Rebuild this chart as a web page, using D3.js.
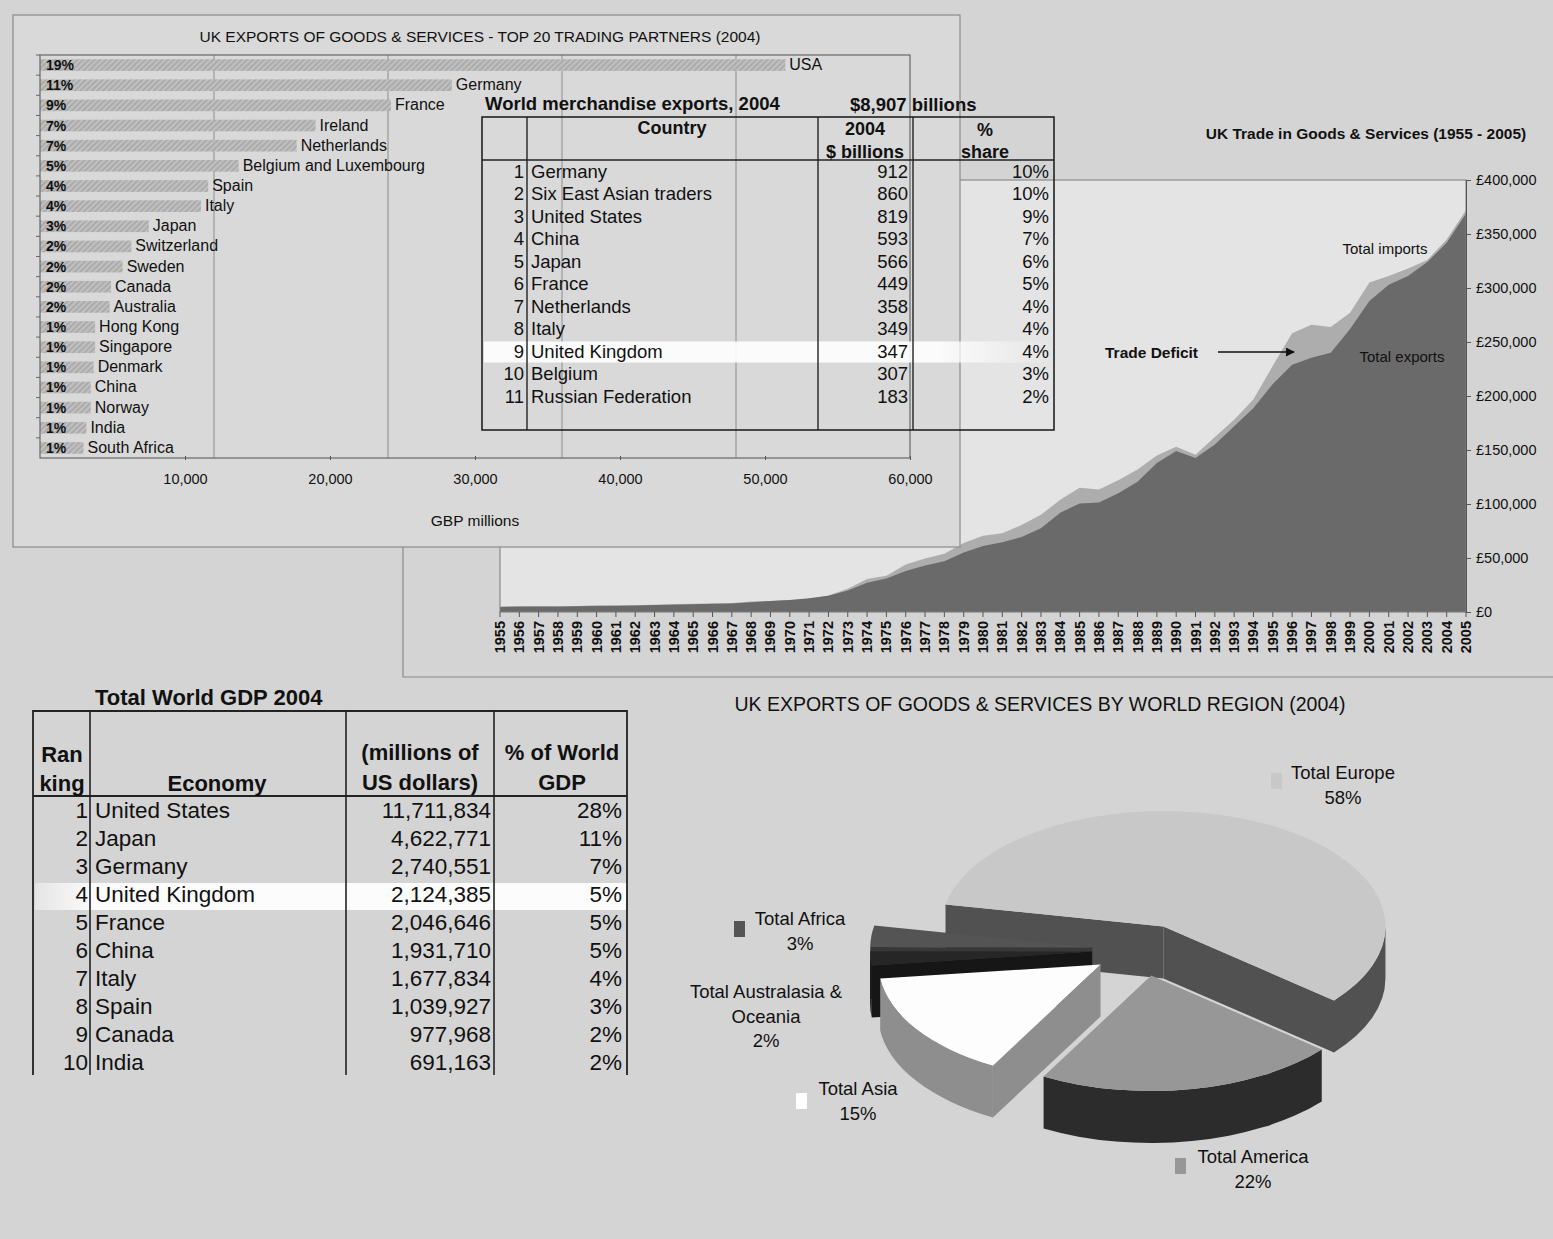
<!DOCTYPE html>
<html>
<head>
<meta charset="utf-8">
<script src="https://cdn.jsdelivr.net/npm/d3@7"></script>
<style>
html, body { margin: 0; padding: 0; background: #d4d4d4; }
svg { display: block; font-family: Arial, "Liberation Sans", sans-serif; }
</style>
</head>
<body>
<svg id="board" width="1553" height="1239"></svg>
<script>
// ---------- Top 20 trading partners (GBP millions, 2004) ----------
const partners = ["USA", "Germany", "France", "Ireland", "Netherlands", "Belgium and Luxembourg",
  "Spain", "Italy", "Japan", "Switzerland", "Sweden", "Canada", "Australia", "Hong Kong",
  "Singapore", "Denmark", "China", "Norway", "India", "South Africa"];
const partnerExports = [51400, 28400, 24200, 19000, 17700, 13700, 11600, 11100, 7500, 6300,
  5700, 4900, 4800, 3800, 3800, 3700, 3500, 3500, 3200, 3000];
const partnerShare = ["19%", "11%", "9%", "7%", "7%", "5%", "4%", "4%", "3%", "2%",
  "2%", "2%", "2%", "1%", "1%", "1%", "1%", "1%", "1%", "1%"];
const partnerTicks = [10000, 20000, 30000, 40000, 50000, 60000];
const partnerGrid = [12000, 24000, 36000, 48000];

// ---------- World merchandise exports 2004 ----------
const merchRank = [1, 2, 3, 4, 5, 6, 7, 8, 9, 10, 11];
const merchCountry = ["Germany", "Six East Asian traders", "United States", "China", "Japan",
  "France", "Netherlands", "Italy", "United Kingdom", "Belgium", "Russian Federation"];
const merchValue = [912, 860, 819, 593, 566, 449, 358, 349, 347, 307, 183];
const merchShare = ["10%", "10%", "9%", "7%", "6%", "5%", "4%", "4%", "4%", "3%", "2%"];

// ---------- UK trade in goods & services (GBP millions) ----------
const tradeYears = [1955, 1956, 1957, 1958, 1959, 1960, 1961, 1962, 1963, 1964, 1965, 1966, 1967,
  1968, 1969, 1970, 1971, 1972, 1973, 1974, 1975, 1976, 1977, 1978, 1979, 1980, 1981, 1982, 1983,
  1984, 1985, 1986, 1987, 1988, 1989, 1990, 1991, 1992, 1993, 1994, 1995, 1996, 1997, 1998, 1999,
  2000, 2001, 2002, 2003, 2004, 2005];
const tradeExports = [4700, 5000, 5200, 5100, 5300, 5600, 5800, 6000, 6400, 6700, 7200, 7600, 7800,
  9100, 10200, 11200, 12700, 15000, 20000, 27000, 31000, 38000, 43000, 47000, 55000, 61000, 64500,
  69500, 77500, 92000, 100500, 101500, 110000, 120500, 138000, 149000, 142500, 155000, 172000,
  189000, 211000, 229000, 235500, 240000, 262000, 288000, 303000, 311000, 324000, 342000, 369000];
const tradeImports = [5000, 5000, 5300, 5100, 5500, 6200, 6100, 6200, 6600, 7500, 7600, 7900, 8400,
  9800, 10300, 11000, 12000, 15200, 21500, 30500, 33500, 44000, 49500, 54000, 64000, 70500, 73000,
  80500, 90000, 104000, 115000, 113500, 122000, 132000, 145000, 153000, 145500, 162000, 178000,
  197000, 228000, 258000, 266000, 264000, 277000, 305000, 311000, 318000, 326000, 345000, 372000];
const tradeTicks = [0, 50000, 100000, 150000, 200000, 250000, 300000, 350000, 400000];

// ---------- Total world GDP 2004 ----------
const gdpRank = [1, 2, 3, 4, 5, 6, 7, 8, 9, 10];
const gdpEconomy = ["United States", "Japan", "Germany", "United Kingdom", "France", "China",
  "Italy", "Spain", "Canada", "India"];
const gdpValue = [11711834, 4622771, 2740551, 2124385, 2046646, 1931710, 1677834, 1039927, 977968, 691163];
const gdpShare = ["28%", "11%", "7%", "5%", "5%", "5%", "4%", "3%", "2%", "2%"];

// ---------- UK exports by world region 2004 (%) ----------
const regionNames = ["Total Europe", "Total America", "Total Asia", "Total Australasia & Oceania", "Total Africa"];
const regionShare = [58, 22, 15, 2, 3];

// =====================================================================
const svg = d3.select("#board");
const W = 1553, H = 1239;
const ink = "#111";
const pageFill = "#d4d4d4";

svg.append("rect").attr("width", W).attr("height", H).attr("fill", pageFill);

const defs = svg.append("defs");
const hatch = defs.append("pattern").attr("id", "barHatch")
  .attr("patternUnits", "userSpaceOnUse").attr("width", 4).attr("height", 4)
  .attr("patternTransform", "rotate(45)");
hatch.append("rect").attr("width", 4).attr("height", 4).attr("fill", "#c0c0c0");
hatch.append("line").attr("x1", 1).attr("y1", 0).attr("x2", 1).attr("y2", 4)
  .attr("stroke", "#a2a2a2").attr("stroke-width", 1.4);

const glow = defs.append("linearGradient").attr("id", "rowGlow")
  .attr("x1", "0%").attr("x2", "100%").attr("y1", "0%").attr("y2", "0%");
glow.append("stop").attr("offset", "0%").attr("stop-color", "#fff").attr("stop-opacity", 0.9);
glow.append("stop").attr("offset", "80%").attr("stop-color", "#fff").attr("stop-opacity", 0.9);
glow.append("stop").attr("offset", "100%").attr("stop-color", "#fff").attr("stop-opacity", 0);

const glow2 = defs.append("linearGradient").attr("id", "rowGlow2")
  .attr("x1", "0%").attr("x2", "100%").attr("y1", "0%").attr("y2", "0%");
glow2.append("stop").attr("offset", "0%").attr("stop-color", "#fff").attr("stop-opacity", 0.4);
glow2.append("stop").attr("offset", "10%").attr("stop-color", "#fff").attr("stop-opacity", 0.92);
glow2.append("stop").attr("offset", "100%").attr("stop-color", "#fff").attr("stop-opacity", 0.92);

defs.append("marker").attr("id", "arrowHead").attr("viewBox", "0 0 10 10")
  .attr("refX", 9).attr("refY", 5).attr("markerWidth", 9).attr("markerHeight", 9)
  .attr("markerUnits", "userSpaceOnUse").attr("orient", "auto")
  .append("path").attr("d", "M0,0L10,5L0,10Z").attr("fill", ink);

// =====================================================================
// UK trade area chart (sits underneath the partner bar chart panel)
const trade = svg.append("g");
trade.append("path").attr("d", "M403,40V677H1553").attr("fill", "none").attr("stroke", "#8a8a8a").attr("stroke-width", 1.2);

const tx = d3.scaleLinear().domain([tradeYears[0], tradeYears[tradeYears.length - 1]]).range([500, 1466]);
const ty = d3.scaleLinear().domain([0, 400000]).range([612, 180]);

trade.append("rect").attr("x", tx.range()[0]).attr("y", ty(400000))
  .attr("width", tx.range()[1] - tx.range()[0]).attr("height", ty(0) - ty(400000))
  .attr("fill", "#e4e4e4");

const tradeArea = d3.area().x((d, i) => tx(tradeYears[i])).y0(ty(0)).y1(d => ty(d));
trade.append("path").datum(tradeImports).attr("d", tradeArea).attr("fill", "#adadad");
trade.append("path").datum(tradeExports).attr("d", tradeArea).attr("fill", "#6a6a6a");

trade.append("rect").attr("x", tx.range()[0]).attr("y", ty(400000))
  .attr("width", tx.range()[1] - tx.range()[0]).attr("height", ty(0) - ty(400000))
  .attr("fill", "none").attr("stroke", "#7a7a7a").attr("stroke-width", 1);

const yAxis = d3.axisRight(ty).tickValues(tradeTicks).tickSize(5).tickPadding(5)
  .tickFormat(d => "£" + d3.format(",")(d));
const yg = trade.append("g").attr("transform", `translate(${tx.range()[1]},0)`).call(yAxis);
yg.select(".domain").attr("stroke", "#555");
yg.selectAll(".tick line").attr("stroke", "#555");
yg.selectAll(".tick text").attr("font-size", 14.5).attr("fill", ink)
  .attr("font-family", "Arial, 'Liberation Sans', sans-serif");

const yearG = trade.append("g");
yearG.selectAll("line").data(tradeYears).join("line")
  .attr("x1", d => tx(d)).attr("x2", d => tx(d)).attr("y1", ty(0)).attr("y2", ty(0) + 5)
  .attr("stroke", "#555");
yearG.selectAll("text").data(tradeYears).join("text")
  .attr("transform", d => `translate(${tx(d) + 5},${ty(0) + 9}) rotate(-90)`)
  .attr("text-anchor", "end").attr("font-size", 14.5).attr("font-weight", "bold").attr("fill", ink)
  .text(d => d);

trade.append("text").attr("x", 1366).attr("y", 139).attr("text-anchor", "middle")
  .attr("font-size", 15.5).attr("font-weight", "bold").attr("fill", ink)
  .text("UK Trade in Goods & Services (1955 - 2005)");
trade.append("text").attr("x", 1385).attr("y", 254).attr("text-anchor", "middle")
  .attr("font-size", 15).attr("fill", ink).text("Total imports");
trade.append("text").attr("x", 1402).attr("y", 362).attr("text-anchor", "middle")
  .attr("font-size", 15).attr("fill", ink).text("Total exports");
trade.append("text").attr("x", 1105).attr("y", 358)
  .attr("font-size", 15.5).attr("font-weight", "bold").attr("fill", ink).text("Trade Deficit");
trade.append("line").attr("x1", 1218).attr("y1", 352).attr("x2", 1294).attr("y2", 352)
  .attr("stroke", ink).attr("stroke-width", 1.6).attr("marker-end", "url(#arrowHead)");

// =====================================================================
// Top 20 trading partners bar chart
const bar = svg.append("g");
bar.append("rect").attr("x", 13).attr("y", 15).attr("width", 947).attr("height", 532)
  .attr("fill", "#d9d9d9").attr("stroke", "#8a8a8a").attr("stroke-width", 1.2);

const bx = d3.scaleLinear().domain([0, 60000]).range([40, 910]);
const by = d3.scaleBand().domain(partners).range([55, 458]).paddingInner(0.42).paddingOuter(0.21);

bar.selectAll(".grid").data(partnerGrid).join("line").attr("class", "grid")
  .attr("x1", d => bx(d)).attr("x2", d => bx(d)).attr("y1", 55).attr("y2", 458)
  .attr("stroke", "#8c8c8c").attr("stroke-width", 1);

bar.selectAll(".bar").data(partnerExports).join("rect").attr("class", "bar")
  .attr("x", bx(0)).attr("y", (d, i) => by(partners[i]))
  .attr("width", d => bx(d) - bx(0)).attr("height", by.bandwidth())
  .attr("fill", "url(#barHatch)");

bar.append("rect").attr("x", bx(0)).attr("y", 55).attr("width", bx(60000) - bx(0)).attr("height", 403)
  .attr("fill", "none").attr("stroke", "#666").attr("stroke-width", 1.2);

const xAxis = d3.axisBottom(bx).tickValues(partnerTicks).tickSize(4).tickPadding(14)
  .tickFormat(d3.format(","));
const xg = bar.append("g").attr("transform", "translate(0,456)").call(xAxis);
xg.select(".domain").remove();
xg.selectAll(".tick line").attr("stroke", "#555");
xg.selectAll(".tick text").attr("font-size", 14.5).attr("fill", ink)
  .attr("font-family", "Arial, 'Liberation Sans', sans-serif");

const stepEdges = partners.map(p => by(p) - by.step() * by.paddingInner() / 2);
bar.selectAll(".ytick").data(stepEdges).join("line").attr("class", "ytick")
  .attr("x1", bx(0) - 4).attr("x2", bx(0)).attr("y1", d => d).attr("y2", d => d)
  .attr("stroke", "#666");

bar.selectAll(".pct").data(partnerShare).join("text").attr("class", "pct")
  .attr("x", bx(0) + 6).attr("y", (d, i) => by(partners[i]) + by.bandwidth() / 2 + 5)
  .attr("font-size", 14).attr("font-weight", "bold").attr("fill", ink).text(d => d);

bar.selectAll(".name").data(partners).join("text").attr("class", "name")
  .attr("x", (d, i) => bx(partnerExports[i]) + 4).attr("y", d => by(d) + by.bandwidth() / 2 + 5)
  .attr("font-size", 16).attr("fill", ink).text(d => d);

bar.append("text").attr("x", 480).attr("y", 42).attr("text-anchor", "middle")
  .attr("font-size", 15.5).attr("fill", ink)
  .text("UK EXPORTS OF GOODS & SERVICES - TOP 20 TRADING PARTNERS (2004)");
bar.append("text").attr("x", 475).attr("y", 526).attr("text-anchor", "middle")
  .attr("font-size", 15.5).attr("fill", ink).text("GBP millions");

// =====================================================================
// World merchandise exports table
const merch = svg.append("g");
const mRow0 = 177.5, mStep = 22.5;
merch.append("rect").attr("x", 484).attr("y", mRow0 + 8 * mStep - 16).attr("width", 570).attr("height", 21)
  .attr("fill", "url(#rowGlow)");
merch.append("text").attr("x", 485).attr("y", 110).attr("font-size", 18.5).attr("font-weight", "bold")
  .attr("fill", ink).text("World merchandise exports, 2004");
merch.append("text").attr("x", 850).attr("y", 111).attr("font-size", 18.5).attr("font-weight", "bold")
  .attr("fill", ink).text("$8,907 billions");
merch.append("rect").attr("x", 482).attr("y", 117).attr("width", 572).attr("height", 313)
  .attr("fill", "none").attr("stroke", "#222").attr("stroke-width", 1.6);
merch.append("line").attr("x1", 482).attr("x2", 1054).attr("y1", 160).attr("y2", 160)
  .attr("stroke", "#222").attr("stroke-width", 1.6);
[527, 818, 913].forEach(x => merch.append("line").attr("x1", x).attr("x2", x).attr("y1", 117).attr("y2", 430)
  .attr("stroke", "#222").attr("stroke-width", 1.4));
const mHead = [["Country", 672, 134], ["2004", 865, 135], ["$ billions", 865, 158], ["%", 985, 136], ["share", 985, 158]];
merch.selectAll(".mh").data(mHead).join("text").attr("class", "mh")
  .attr("x", d => d[1]).attr("y", d => d[2]).attr("text-anchor", "middle")
  .attr("font-size", 18).attr("font-weight", "bold").attr("fill", ink).text(d => d[0]);
merch.selectAll(".mr").data(merchRank).join("text").attr("class", "mr")
  .attr("x", 524).attr("y", (d, i) => mRow0 + i * mStep).attr("text-anchor", "end")
  .attr("font-size", 18.5).attr("fill", ink).text(d => d);
merch.selectAll(".mc").data(merchCountry).join("text").attr("class", "mc")
  .attr("x", 531).attr("y", (d, i) => mRow0 + i * mStep)
  .attr("font-size", 18.5).attr("fill", ink).text(d => d);
merch.selectAll(".mv").data(merchValue).join("text").attr("class", "mv")
  .attr("x", 908).attr("y", (d, i) => mRow0 + i * mStep).attr("text-anchor", "end")
  .attr("font-size", 18.5).attr("fill", ink).text(d => d);
merch.selectAll(".ms").data(merchShare).join("text").attr("class", "ms")
  .attr("x", 1049).attr("y", (d, i) => mRow0 + i * mStep).attr("text-anchor", "end")
  .attr("font-size", 18.5).attr("fill", ink).text(d => d);

// =====================================================================
// Total world GDP table
const gdp = svg.append("g");
const gRow0 = 818, gStep = 28;
const fmt = d3.format(",");
gdp.append("rect").attr("x", 35).attr("y", gRow0 + 3 * gStep - 19).attr("width", 592).attr("height", 27)
  .attr("fill", "url(#rowGlow2)");
gdp.append("text").attr("x", 95).attr("y", 705).attr("font-size", 22).attr("font-weight", "bold")
  .attr("fill", ink).text("Total World GDP 2004");
gdp.append("path").attr("d", "M33,1075V711H627V1075").attr("fill", "none").attr("stroke", "#222").attr("stroke-width", 1.8);
gdp.append("line").attr("x1", 33).attr("x2", 627).attr("y1", 796).attr("y2", 796).attr("stroke", "#222").attr("stroke-width", 1.8);
[90, 346, 494].forEach(x => gdp.append("line").attr("x1", x).attr("x2", x).attr("y1", 711).attr("y2", 1075)
  .attr("stroke", "#222").attr("stroke-width", 1.6));
const gHead = [["Ran", 62, 762], ["king", 62, 791], ["Economy", 217, 791], ["(millions of", 420, 760],
  ["US dollars)", 420, 790], ["% of World", 562, 760], ["GDP", 562, 790]];
gdp.selectAll(".gh").data(gHead).join("text").attr("class", "gh")
  .attr("x", d => d[1]).attr("y", d => d[2]).attr("text-anchor", "middle")
  .attr("font-size", 22).attr("font-weight", "bold").attr("fill", ink).text(d => d[0]);
gdp.selectAll(".gr").data(gdpRank).join("text").attr("class", "gr")
  .attr("x", 88).attr("y", (d, i) => gRow0 + i * gStep).attr("text-anchor", "end")
  .attr("font-size", 22.5).attr("fill", ink).text(d => d);
gdp.selectAll(".ge").data(gdpEconomy).join("text").attr("class", "ge")
  .attr("x", 95).attr("y", (d, i) => gRow0 + i * gStep)
  .attr("font-size", 22.5).attr("fill", ink).text(d => d);
gdp.selectAll(".gv").data(gdpValue).join("text").attr("class", "gv")
  .attr("x", 491).attr("y", (d, i) => gRow0 + i * gStep).attr("text-anchor", "end")
  .attr("font-size", 22.5).attr("fill", ink).text(d => fmt(d));
gdp.selectAll(".gs").data(gdpShare).join("text").attr("class", "gs")
  .attr("x", 622).attr("y", (d, i) => gRow0 + i * gStep).attr("text-anchor", "end")
  .attr("font-size", 22.5).attr("fill", ink).text(d => d);

// =====================================================================
// Exploded 3-D pie of exports by region
const pie3 = { cx: 1142, cy: 950, r: 222, tilt: 0.52, depth: 52, explode: 50, start: 191 };
const regionTop = ["#c8c8c8", "#979797", "#fdfdfd", "#262626", "#545454"];
const regionSide = ["#515151", "#2c2c2c", "#8e8e8e", "#161616", "#383838"];

const slices = d3.pie().sort(null).value(d => d)
  .startAngle((pie3.start + 90) * Math.PI / 180)
  .endAngle((pie3.start + 450) * Math.PI / 180)(regionShare);

const ry = pie3.r * pie3.tilt;
const pieG = svg.append("g");
const parts = slices.map((a, i) => {
  const s = a.startAngle - Math.PI / 2, e = a.endAngle - Math.PI / 2, m = (s + e) / 2;
  const ox = pie3.cx + pie3.explode * Math.cos(m);
  const oy = pie3.cy + pie3.explode * Math.sin(m) * pie3.tilt;
  const P = (t, dz = 0) => [ox + pie3.r * Math.cos(t), oy + ry * Math.sin(t) + dz];
  return { i, s, e, ox, oy, P };
}).sort((a, b) => a.oy - b.oy);

function frontRanges(s, e) {
  const out = [];
  for (let k = -2; k <= 3; k++) {
    const a = Math.max(s, 2 * Math.PI * k), b = Math.min(e, 2 * Math.PI * k + Math.PI);
    if (b > a) out.push([a, b]);
  }
  return out;
}

parts.forEach(p => {
  const d = pie3.depth, side = regionSide[p.i];
  const face = t => {
    const q = p.P(t), q2 = p.P(t, d);
    return `M${p.ox},${p.oy}L${q[0]},${q[1]}L${q2[0]},${q2[1]}L${p.ox},${p.oy + d}Z`;
  };
  if (Math.cos(p.s) < 0) pieG.append("path").attr("d", face(p.s)).attr("fill", side);
  if (Math.cos(p.e) > 0) pieG.append("path").attr("d", face(p.e)).attr("fill", side);
  frontRanges(p.s, p.e).forEach(([a, b]) => {
    const a0 = p.P(a), b0 = p.P(b), a1 = p.P(a, d), b1 = p.P(b, d);
    const large = (b - a) > Math.PI ? 1 : 0;
    pieG.append("path")
      .attr("d", `M${a0}A${pie3.r},${ry} 0 ${large} 1 ${b0}L${b1}A${pie3.r},${ry} 0 ${large} 0 ${a1}Z`)
      .attr("fill", side);
  });
  const s0 = p.P(p.s), e0 = p.P(p.e);
  const large = (p.e - p.s) > Math.PI ? 1 : 0;
  pieG.append("path")
    .attr("d", `M${p.ox},${p.oy}L${s0}A${pie3.r},${ry} 0 ${large} 1 ${e0}Z`)
    .attr("fill", regionTop[p.i]);
});

svg.append("text").attr("x", 1040).attr("y", 711).attr("text-anchor", "middle")
  .attr("font-size", 19.5).attr("fill", ink)
  .text("UK EXPORTS OF GOODS & SERVICES BY WORLD REGION (2004)");

// label blocks: [centre x, first baseline, marker x, marker y] per region
const regionLabelPos = [
  [1343, 779, 1271, 773],
  [1253, 1163, 1175, 1158],
  [858, 1095, 796, 1093],
  [766, 998, null, null],
  [800, 925, 734, 921]
];
const labelG = svg.append("g");
regionNames.forEach((name, i) => {
  const [lx, ly, mx, my] = regionLabelPos[i];
  const lines = name === "Total Australasia & Oceania" ? ["Total Australasia &", "Oceania"] : [name];
  lines.concat([regionShare[i] + "%"]).forEach((t, k) => {
    labelG.append("text").attr("x", lx).attr("y", ly + k * 24.5).attr("text-anchor", "middle")
      .attr("font-size", 18.5).attr("fill", ink).text(t);
  });
  if (mx !== null) {
    labelG.append("rect").attr("x", mx).attr("y", my).attr("width", 11).attr("height", 16)
      .attr("fill", regionTop[i]);
  }
});
</script>
</body>
</html>
